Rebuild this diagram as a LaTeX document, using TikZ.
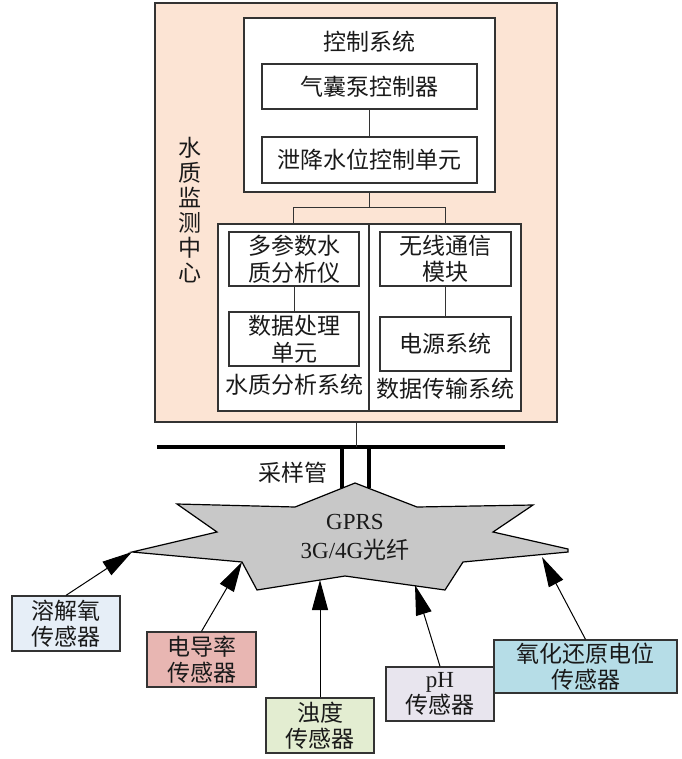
\documentclass[tikz,border=0pt]{standalone}
\usepackage{fontspec}
\setmainfont{Liberation Serif}
\newfontfamily\cjk{Noto Sans CJK SC}
\usetikzlibrary{arrows.meta}
\definecolor{peach}{HTML}{FCE4D4}
\definecolor{boxline}{HTML}{333333}
\definecolor{txt}{HTML}{1A1A1A}
\definecolor{stargray}{HTML}{C8C8C8}
\definecolor{cdiss}{HTML}{E6EEF7}
\definecolor{ccond}{HTML}{E8B6B2}
\definecolor{cturb}{HTML}{E3EDD1}
\definecolor{cph}{HTML}{E8E5EE}
\definecolor{corp}{HTML}{B6DDE7}
\tikzset{
  box/.style={draw=boxline, line width=1.3pt, fill=white, inner sep=0pt, align=center,
    font=\cjk\fontsize{23}{26.5}\selectfont, text=txt},
  lbl/.style={inner sep=0pt, align=center, font=\cjk\fontsize{23}{26.5}\selectfont, text=txt},
  sensor/.style={box, minimum width=108pt, minimum height=55pt},
  link/.style={draw=boxline, line width=1pt},
  pipe/.style={line width=4pt, draw=black},
  arr/.style={-{Triangle[length=30pt,width=16pt]}, line width=1pt, draw=black}
}
\begin{document}
\begin{tikzpicture}[x=1pt,y=-1pt]
\useasboundingbox (0,0) rectangle (681,759);
% monitoring centre
\node[box, fill=peach, minimum width=402pt, minimum height=419pt] (center) at (356,212.5) {};
\node[lbl, font=\cjk\fontsize{23}{25}\selectfont] (centerlbl) at (190,210) {水\\质\\监\\测\\中\\心};
% control system
\node[box, minimum width=251pt, minimum height=174pt] (ctrl) at (369.5,105) {};
\node[lbl] (ctrllbl) at (369.5,42) {控制系统};
\node[box, minimum width=215pt, minimum height=45pt] (pump) at (369.5,86.5) {气囊泵控制器};
\node[box, minimum width=215pt, minimum height=46pt] (drain) at (369.5,160) {泄降水位控制单元};
\draw[link] (pump) -- (drain);
% lower systems
\node[box, minimum width=151pt, minimum height=187pt] (anasys) at (293.5,317.5) {};
\node[box, minimum width=152pt, minimum height=187pt] (datsys) at (445,317.5) {};
\node[box, minimum width=130pt, minimum height=54pt] (analyzer) at (294,259) {多参数水\\质分析仪};
\node[box, minimum width=130pt, minimum height=54pt] (proc) at (294,339) {数据处理\\单元};
\node[box, minimum width=131pt, minimum height=54pt] (wless) at (445.5,259) {无线通信\\模块};
\node[box, minimum width=131pt, minimum height=54pt] (power) at (445.5,344) {电源系统};
\node[lbl] (analbl) at (294,385) {水质分析系统};
\node[lbl] (datlbl) at (445,389) {数据传输系统};
\draw[link] (analyzer) -- (proc);
\draw[link] (wless) -- (power);
\coordinate (junc) at (369.5,208);
\draw[link] (ctrl.south) -- (junc);
\draw[link] (anasys.north) -- ++(0,-16) -| (datsys.north);
% bus
\coordinate (barL) at (157,447);
\coordinate (barR) at (505,447);
\coordinate (barM) at (356,447);
\draw[pipe] (barL) -- (barR);
\draw[link] (center.south) -- (barM);
\node[lbl] (tubelbl) at (293,473) {采样管};
% star
\coordinate (sT) at (355,483);
\coordinate (sI1) at (417,507);
\coordinate (sUR) at (533,505);
\coordinate (sI2) at (493,532);
\coordinate (sR1) at (568,549);
\coordinate (sR2) at (568,552);
\coordinate (sI3) at (463,562);
\coordinate (sBR) at (445,590);
\coordinate (sIB) at (345,576);
\coordinate (sBL) at (257,590);
\coordinate (sI4) at (242,562);
\coordinate (sL) at (132,552);
\coordinate (sI5) at (217,532);
\coordinate (sUL) at (177,504);
\coordinate (sI6) at (295,507);
\draw[fill=stargray, draw=black, line width=1.2pt, line join=miter]
  (sT) -- (sI1) -- (sUR) -- (sI2) -- (sR1) -- (sR2) -- (sI3) -- (sBR) -- (sIB)
  -- (sBL) -- (sI4) -- (sL) -- (sI5) -- (sUL) -- (sI6) -- cycle;
\coordinate (tube1) at (342,447);
\coordinate (tube2) at (369,447);
\coordinate (tube1e) at (342,488);
\coordinate (tube2e) at (369,488);
\draw[pipe, line width=3.5pt] (tube1) -- (tube1e);
\draw[pipe, line width=3.5pt] (tube2) -- (tube2e);
\node[lbl, font=\fontsize{23}{26}\selectfont] (gprs) at (355,522) {GPRS};
\node[lbl, font=\fontsize{23}{26}\selectfont] (net) at (355,550) {3G/4G{\cjk 光纤}};
% sensors
\node[sensor, fill=cdiss] (diss) at (66,623.5) {溶解氧\\传感器};
\node[sensor, fill=ccond, minimum width=109pt] (cond) at (201.5,659.5) {电导率\\传感器};
\node[sensor, fill=cturb] (turb) at (320,725.5) {浊度\\传感器};
\node[sensor, fill=cph, minimum height=54pt] (ph) at (440,694) {{\rmfamily pH}\\传感器};
\node[sensor, fill=corp, minimum width=183pt, minimum height=53pt] (orp) at (585.5,666.5) {氧化还原电位\\传感器};
\coordinate (tTurb) at (320,580);
\coordinate (tPh) at (415,585);
\coordinate (tOrp) at (542,557);
\draw[arr] (diss.north) -- (sL);
\draw[arr] (cond.north) -- (sI4);
\draw[arr] (turb.north) -- (tTurb);
\draw[arr] (ph.north) -- (tPh);
\draw[arr] (orp.north) -- (tOrp);
\end{tikzpicture}
\end{document}
